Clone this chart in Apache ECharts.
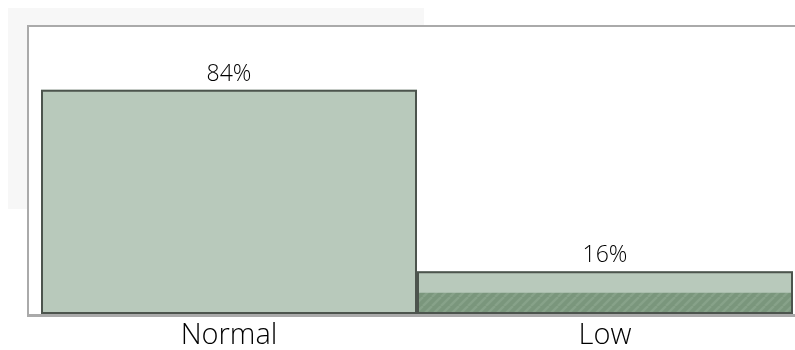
<!DOCTYPE html>
<html>
<head>
<meta charset="utf-8">
<script src="https://cdn.jsdelivr.net/npm/echarts@6/dist/echarts.min.js"></script>
<style>
  html, body { margin: 0; padding: 0; background: #ffffff; }
  #chart { width: 795px; height: 350px; }
</style>
</head>
<body>
<div id="chart"></div>
<script>
// Share of readings by level (percent)
const categories = ['Normal', 'Low'];
const shareValues = [84, 16];
// Hatched sub-portion at the base of each bar ('-' = none)
const hatchedValues = ['-', 8];

// Diagonal stripe fill for the hatched portion
function stripePattern() {
  const c = document.createElement('canvas');
  c.width = 9; c.height = 9;
  const g = c.getContext('2d');
  g.fillStyle = '#7a967c';
  g.fillRect(0, 0, 9, 9);
  g.strokeStyle = '#87a289';
  g.lineWidth = 2.5;
  for (let k = -9; k <= 18; k += 9) {
    g.beginPath();
    g.moveTo(k, 9);
    g.lineTo(k + 9, 0);
    g.stroke();
  }
  return c;
}

const chart = echarts.init(document.getElementById('chart'), null, { renderer: 'canvas' });
const FONT = '"Open Sans", "DejaVu Sans", sans-serif';

chart.setOption({
  animation: false,
  backgroundColor: '#ffffff',
  grid: { left: 41, right: 2, top: 47, bottom: 35, containLabel: false },
  xAxis: {
    type: 'category',
    data: categories,
    axisLine: { show: false },
    axisTick: { show: false },
    axisLabel: { color: '#000000', fontSize: 29, fontWeight: 300, fontFamily: FONT, margin: 7 }
  },
  yAxis: {
    type: 'value',
    min: 0,
    max: 100,
    show: false,
    splitLine: { show: false }
  },
  graphic: [
    { type: 'rect', z: -20, shape: { x: 8, y: 8, width: 416, height: 201 },
      style: { fill: '#f7f7f7' } },
    { type: 'rect', z: -10, shape: { x: 28, y: 26, width: 800, height: 290 },
      style: { fill: '#ffffff', stroke: '#aaaaaa', lineWidth: 2 } },
    { type: 'line', z: 100, shape: { x1: 27, y1: 315, x2: 795, y2: 315 },
      style: { stroke: '#aaaaaa', lineWidth: 2 } }
  ],
  series: [
    {
      name: 'share', type: 'bar', data: shareValues,
      barCategoryGap: '0%', barGap: '-100%',
      itemStyle: { color: '#b8c9bb' }
    },
    {
      name: 'hatched', type: 'bar', data: hatchedValues,
      barGap: '-100%',
      itemStyle: { color: { image: stripePattern(), repeat: 'repeat' } }
    },
    {
      name: 'outline', type: 'bar', data: shareValues,
      barGap: '-100%', silent: true,
      itemStyle: { color: 'rgba(0,0,0,0)', borderColor: '#4c544d', borderWidth: 2 },
      label: {
        show: true, position: 'top', distance: 4,
        formatter: '{c}%', color: '#000000', fontSize: 23, fontWeight: 300, fontFamily: FONT
      }
    }
  ]
});
</script>
</body>
</html>
